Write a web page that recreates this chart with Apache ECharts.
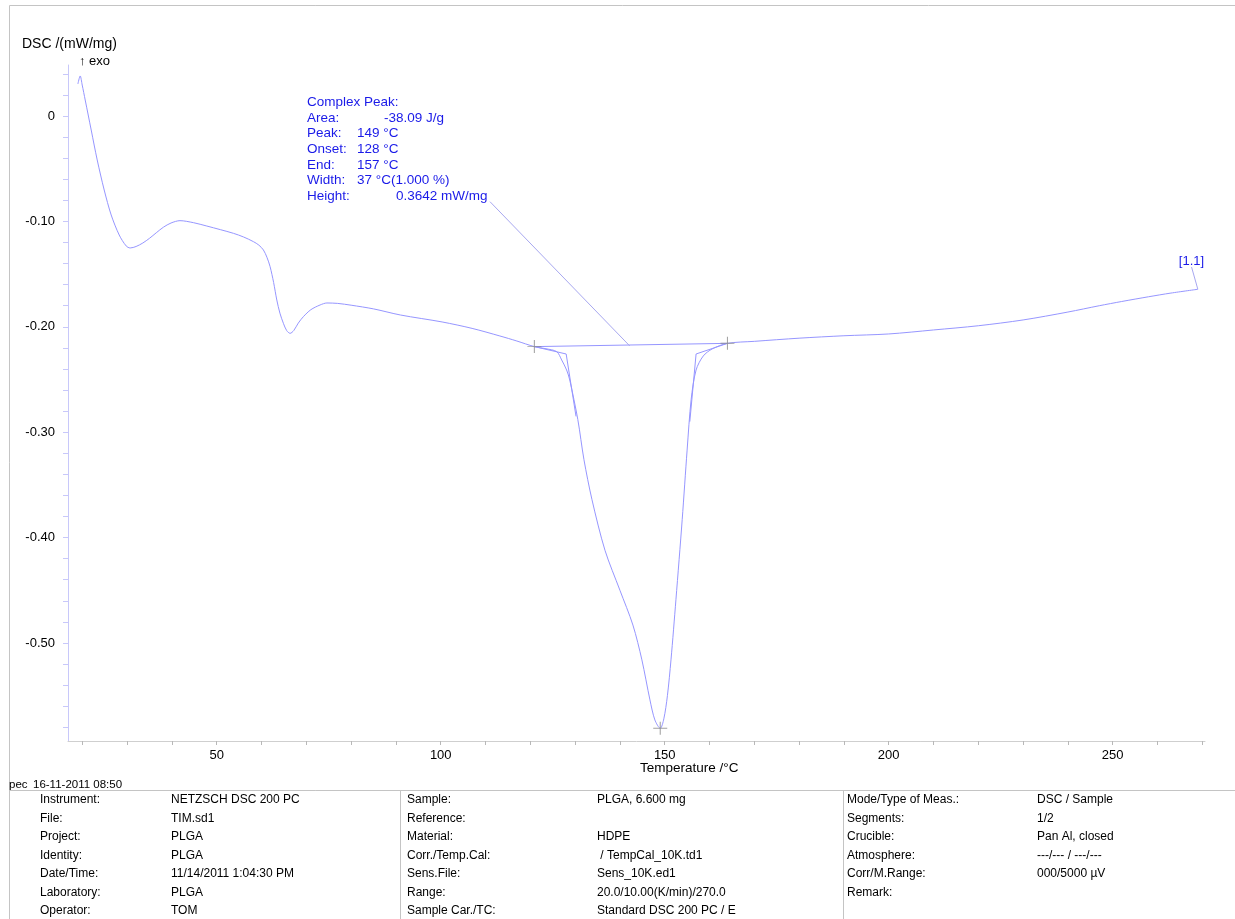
<!DOCTYPE html>
<html>
<head>
<meta charset="utf-8">
<script src="https://cdn.jsdelivr.net/npm/echarts@6/dist/echarts.min.js"></script>
<style>
  html, body { margin: 0; padding: 0; background: #fff; }
  #chart { width: 1235px; height: 919px; }
</style>
</head>
<body>
<div id="chart"></div>
<script>
// DSC heating scan of PLGA: heat flow (mW/mg) against sample temperature (°C)
const temperature = [
  19.01, 19.52, 19.97, 20.64, 21.98, 23.32, 24.88, 26.44, 28.23, 29.79, 30.68, 32.0, 33.5, 35.0, 36.5, 38.1,
  39.8, 41.8, 44.8, 47.79, 50.8, 53.73, 56.0, 58.19, 59.4, 60.42, 61.2, 61.91, 62.7, 63.41,
  64.1, 64.88, 65.6, 66.38, 67.2, 68.2, 69.34, 71.0, 73.07, 74.6, 77, 80, 85, 91, 100.3, 107,
  113.2, 117, 120.9, 123.5, 125.9, 127.0, 128.1, 128.8, 130.6, 131.97, 133.76, 136.66, 140.0,
  142.9, 144.9, 146.7, 147.8, 149.0, 149.8, 150.6, 151.4, 152.5, 153.9, 155.0, 155.9, 157.0,
  158.6, 160.6, 164.0, 170, 180, 190, 200, 210, 220, 230, 240, 247, 252, 258, 263, 269.0
];
const heatFlow = [
  0.0304, 0.0380, 0.0294, 0.0152, -0.0133, -0.0417, -0.0702, -0.0939, -0.1129, -0.1233, -0.1252, -0.1238, -0.1205, -0.1160, -0.1108, -0.1055,
  -0.1015, -0.0993, -0.1012, -0.1044, -0.1078, -0.1113, -0.1148, -0.1192, -0.1225, -0.1271, -0.134, -0.1429, -0.158, -0.1746,
  -0.187, -0.1967, -0.2035, -0.2062, -0.2035, -0.1965, -0.1904, -0.1838, -0.1793, -0.1774, -0.1778, -0.1795, -0.183, -0.1888, -0.1954, -0.2015,
  -0.2087, -0.2135, -0.2188, -0.2208, -0.2236, -0.2315, -0.2410, -0.2505, -0.288, -0.326, -0.364, -0.412, -0.450,
  -0.483, -0.516, -0.554, -0.573, -0.581, -0.572, -0.550, -0.516, -0.459, -0.383, -0.317, -0.269, -0.241,
  -0.2277, -0.221, -0.2157, -0.2138, -0.2108, -0.2085, -0.2068, -0.2030, -0.1990, -0.1935, -0.1860, -0.1800, -0.1760, -0.1715, -0.1680, -0.1644
];

// Peak evaluation: integration limits, onset/end construction and the peak point
const limitPoints = [[120.9, -0.2188], [164.0, -0.2157]];
const peakPoint = [149.0, -0.581];
const onsetLine = [[120.9, -0.2188], [128.0, -0.2258], [130.2, -0.285]];
const endLine = [[155.6, -0.290], [157.0, -0.2258], [164.0, -0.2157]];
const peakLeader = [[111.0, -0.0813], [142.2, -0.2182]];
const segmentLeader = [[267.6, -0.1433], [269.0, -0.1644]];

// Axis ticks and labels
const xLabelValues = [50, 100, 150, 200, 250];
const xTickValues = [20, 30, 40, 50, 60, 70, 80, 90, 100, 110, 120, 130, 140, 150, 160, 170,
  180, 190, 200, 210, 220, 230, 240, 250, 260, 270];
const yLabelValues = [0, -0.1, -0.2, -0.3, -0.4, -0.5];
const yTickValues = [0.04, 0.02, 0, -0.02, -0.04, -0.06, -0.08, -0.1, -0.12, -0.14, -0.16, -0.18,
  -0.2, -0.22, -0.24, -0.26, -0.28, -0.3, -0.32, -0.34, -0.36, -0.38, -0.4, -0.42, -0.44, -0.46,
  -0.48, -0.5, -0.52, -0.54, -0.56, -0.58];

// Peak result block
const resultLabels = ['Area:', 'Peak:', 'Onset:', 'End:', 'Width:', 'Height:'];
const resultValues = ['-38.09 J/g', '149 °C', '128 °C', '157 °C', '37 °C(1.000 %)', '0.3642 mW/mg'];

// Measurement information table
const infoLabels1 = ['Instrument:', 'File:', 'Project:', 'Identity:', 'Date/Time:', 'Laboratory:', 'Operator:'];
const infoValues1 = ['NETZSCH DSC 200 PC', 'TIM.sd1', 'PLGA', 'PLGA', '11/14/2011 1:04:30 PM', 'PLGA', 'TOM'];
const infoLabels2 = ['Sample:', 'Reference:', 'Material:', 'Corr./Temp.Cal:', 'Sens.File:', 'Range:', 'Sample Car./TC:'];
const infoValues2 = ['PLGA, 6.600 mg', '', 'HDPE', ' / TempCal_10K.td1', 'Sens_10K.ed1', '20.0/10.00(K/min)/270.0', 'Standard DSC 200 PC / E'];
const infoLabels3 = ['Mode/Type of Meas.:', 'Segments:', 'Crucible:', 'Atmosphere:', 'Corr/M.Range:', 'Remark:'];
const infoValues3 = ['DSC / Sample', '1/2', 'Pan Al, closed', '---/--- / ---/---', '000/5000 µV', ''];

const FONT = '"Liberation Sans", Arial, Helvetica, sans-serif';
const CURVE = '#9696ff';
const NOTE = '#1a1ae8';

const curveData = temperature.map((t, i) => [t, heatFlow[i]]);

function txt(text, x, y, size, color, align) {
  return {
    type: 'text', silent: true,
    style: {
      text: text, x: x, y: y, fill: color || '#000',
      font: size + 'px ' + FONT,
      align: align || 'left', verticalAlign: 'middle',
      textAlign: align || 'left', textVerticalAlign: 'middle'
    }
  };
}
function seg(x1, y1, x2, y2, color) {
  return {
    type: 'line', silent: true,
    shape: { x1: x1, y1: y1, x2: x2, y2: y2 },
    style: { stroke: color || '#c4c4c4', lineWidth: 1 }
  };
}

const graphics = [];
// outer frame and table rules
graphics.push(seg(9.5, 5.5, 1235, 5.5));
graphics.push(seg(9.5, 5.5, 9.5, 919));
graphics.push(seg(9.5, 790.5, 1235, 790.5));
graphics.push(seg(400.5, 790.5, 400.5, 919));
graphics.push(seg(843.5, 790.5, 843.5, 919));
graphics.push(txt('pec', 9, 785, 11.5));
graphics.push(txt('16-11-2011 08:50', 33, 785, 11.5));

// axis titles
graphics.push(txt('DSC /(mW/mg)', 22, 44, 14));
graphics.push(txt('\u2191 exo', 79, 61, 13));
graphics.push(txt('Temperature /°C', 640, 768, 13.5));

// peak result block
graphics.push(txt('Complex Peak:', 307, 102, 13.5, NOTE));
const resultValueX = [384, 357, 357, 357, 357, 396];
resultLabels.forEach((l, i) => {
  const y = 118 + i * 15.6;
  graphics.push(txt(l, 307, y, 13.5, NOTE));
  graphics.push(txt(resultValues[i], resultValueX[i], y, 13.5, NOTE));
});
graphics.push(txt('[1.1]', 1191.5, 261, 13, NOTE, 'center'));

// info table
const rowY0 = 800, rowDy = 18.5;
infoLabels1.forEach((l, i) => {
  graphics.push(txt(l, 40, rowY0 + i * rowDy, 12));
  graphics.push(txt(infoValues1[i], 171, rowY0 + i * rowDy, 12));
});
infoLabels2.forEach((l, i) => {
  graphics.push(txt(l, 407, rowY0 + i * rowDy, 12));
  graphics.push(txt(infoValues2[i], 597, rowY0 + i * rowDy, 12));
});
infoLabels3.forEach((l, i) => {
  graphics.push(txt(l, 847, rowY0 + i * rowDy, 12));
  graphics.push(txt(infoValues3[i], 1037, rowY0 + i * rowDy, 12));
});

const thin = (data, color) => ({
  type: 'line', data: data, showSymbol: false, silent: true,
  lineStyle: { color: color || CURVE, width: 1 }, z: 3
});

const option = {
  animation: false,
  backgroundColor: '#fff',
  textStyle: { fontFamily: FONT },
  grid: { left: 68, top: 65, width: 1137, height: 676, containLabel: false },
  xAxis: {
    type: 'value', min: 16.8, max: 270.6,
    axisLine: { show: true, onZero: false, lineStyle: { color: '#cfcfcf', width: 1 } },
    axisTick: { show: true, customValues: xTickValues, length: 4, lineStyle: { color: '#b8b8b8' } },
    axisLabel: { customValues: xLabelValues, color: '#000', fontSize: 13, margin: 8, fontFamily: FONT },
    splitLine: { show: false }
  },
  yAxis: {
    type: 'value', min: -0.593, max: 0.0484,
    axisLine: { show: true, onZero: false, lineStyle: { color: '#c8c8fa', width: 1 } },
    axisTick: { show: true, customValues: yTickValues, length: 5, lineStyle: { color: '#c8c8fa' } },
    axisLabel: {
      customValues: yLabelValues, color: '#000', fontSize: 13, margin: 13, fontFamily: FONT,
      formatter: v => (Math.abs(v) < 1e-9 ? '0' : v.toFixed(2))
    },
    splitLine: { show: false }
  },
  series: [
    Object.assign(thin(curveData), { smooth: 0.3 }),
    thin(limitPoints),
    thin(onsetLine),
    thin(endLine),
    thin(peakLeader, '#a8a8f0'),
    thin(segmentLeader, '#a8a8f0'),
    {
      type: 'scatter', silent: true, z: 4,
      data: limitPoints.concat([peakPoint]),
      symbol: 'path://M6,0L6,12M0,6L12,6',
      symbolSize: [14, 13],
      itemStyle: { color: 'none', borderColor: '#8a8a8a', borderWidth: 1 }
    }
  ],
  graphic: graphics
};

const chart = echarts.init(document.getElementById('chart'), null, { renderer: 'canvas' });
chart.setOption(option);
</script>
</body>
</html>
